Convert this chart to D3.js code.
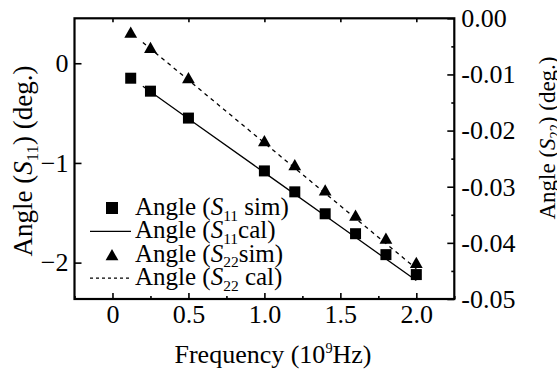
<!DOCTYPE html>
<html>
<head>
<meta charset="utf-8">
<script src="https://cdn.jsdelivr.net/npm/d3@7"></script>
<style>
  body { margin: 0; background: #fff; }
  svg { display: block; }
  text { font-family: "Liberation Serif", "Times New Roman", serif; fill: #000; }
</style>
</head>
<body>
<svg id="chart" width="557" height="374"></svg>
<script>
// simulated points
const freqSim = [0.12, 0.25, 0.5, 1.0, 1.2, 1.4, 1.6, 1.8, 2.0];
const s11Sim = [-0.15, -0.28, -0.55, -1.08, -1.29, -1.51, -1.71, -1.92, -2.12];
const s22Sim = [-0.0025, -0.0052, -0.0106, -0.0218, -0.0261, -0.0306, -0.0351, -0.0392, -0.0435];
// calculated lines
const freqCal = [0.2, 0.5, 1.0, 1.5, 2.0];
const s11Cal = [-0.23, -0.556, -1.097, -1.638, -2.18];
const s22Cal = [-0.0043, -0.0110, -0.0222, -0.0334, -0.0446];
// ticks
const xTicks = [0, 0.5, 1.0, 1.5, 2.0];
const xMinor = [-0.25, 0.25, 0.75, 1.25, 1.75, 2.25];
const leftTicks = [0, -1, -2];
const rightTicks = [0, -0.01, -0.02, -0.03, -0.04, -0.05];
const rightMinor = [-0.005, -0.015, -0.025, -0.035, -0.045];

const svg = d3.select("#chart");
const L = 74.5, R = 454.3, T = 18.3, B = 299;

const x = d3.scaleLinear().domain([-0.25, 2.25]).range([L, R]);
const yL = d3.scaleLinear().domain([0.451, -2.365]).range([T, B]);
const yR = d3.scaleLinear().domain([0, -0.05]).range([T, B]);

// rich text helper: parts = [[text, style]]
function rich(sel, parts, base) {
    let shift = 0;
    parts.forEach(([s, st]) => {
        const t = sel.append("tspan").text(s);
        let target = 0;
        if (st === "i") t.style("font-style", "italic");
        if (st === "sub") { t.attr("font-size", base * 0.62); target = base * 0.22; }
        if (st === "sup") { t.attr("font-size", base * 0.55); target = -base * 0.4; }
        if (target !== shift) t.attr("dy", target - shift);
        shift = target;
    });
}

const fs = 26;

// bottom axis
const gx = svg.append("g").attr("transform", `translate(0,${B})`)
    .call(d3.axisBottom(x).tickValues(xTicks).tickSize(-6).tickPadding(6)
        .tickFormat(d => d === 0 ? "0" : d3.format(".1f")(d)));
gx.selectAll("text").attr("font-size", fs).attr("font-family", null).attr("dy", "0.71em");
svg.append("g").attr("transform", `translate(0,${B})`)
    .call(d3.axisBottom(x).tickValues(xMinor).tickSize(-3).tickFormat(""));

// top axis
svg.append("g").attr("transform", `translate(0,${T})`)
    .call(d3.axisTop(x).tickValues(xTicks).tickSize(-4).tickFormat(""));

// left axis
const gl = svg.append("g").attr("transform", `translate(${L},0)`)
    .call(d3.axisLeft(yL).tickValues(leftTicks).tickSize(-7).tickPadding(6).tickFormat(d3.format("d")));
gl.selectAll("text").attr("font-size", fs).attr("font-family", null);

// right axis
const gr = svg.append("g").attr("transform", `translate(${R},0)`)
    .call(d3.axisRight(yR).tickValues(rightTicks).tickSize(-7).tickPadding(7)
        .tickFormat(d => d3.format(".2f")(d).replace("−", "-")));
gr.selectAll("text").attr("font-size", fs).attr("font-family", null);
svg.append("g").attr("transform", `translate(${R},0)`)
    .call(d3.axisRight(yR).tickValues(rightMinor).tickSize(-3).tickFormat(""));

svg.selectAll(".domain").remove();
svg.selectAll(".tick line").attr("stroke", "#000").attr("stroke-width", 1.6);

// frame
svg.append("rect").attr("x", L).attr("y", T).attr("width", R - L).attr("height", B - T)
    .attr("fill", "none").attr("stroke", "#000").attr("stroke-width", 2.2);

// lines
const lineL = d3.line().x(d => x(d[0])).y(d => yL(d[1]));
const lineR = d3.line().x(d => x(d[0])).y(d => yR(d[1]));
svg.append("path").datum(d3.zip(freqCal, s11Cal)).attr("d", lineL)
    .attr("fill", "none").attr("stroke", "#000").attr("stroke-width", 1.3);
svg.append("path").datum(d3.zip(freqCal, s22Cal)).attr("d", lineR)
    .attr("fill", "none").attr("stroke", "#000").attr("stroke-width", 1.3)
    .attr("stroke-dasharray", "4,4");

// markers
const sq = 11;
const tri = "M0,-5.8L6.4,5.5L-6.4,5.5Z";
svg.append("g").selectAll("rect").data(d3.zip(freqSim, s11Sim)).enter().append("rect")
    .attr("x", d => x(d[0]) - sq / 2).attr("y", d => yL(d[1]) - sq / 2)
    .attr("width", sq).attr("height", sq).attr("fill", "#000");
svg.append("g").selectAll("path").data(d3.zip(freqSim, s22Sim)).enter().append("path")
    .attr("d", tri).attr("transform", d => `translate(${x(d[0])},${yR(d[1])})`).attr("fill", "#000");

// legend
const legend = [
    { kind: "sq", parts: [["Angle (", ""], ["S", "i"], ["11", "sub"], [" sim)", ""]] },
    { kind: "solid", parts: [["Angle (", ""], ["S", "i"], ["11", "sub"], ["cal)", ""]] },
    { kind: "tri", parts: [["Angle (", ""], ["S", "i"], ["22", "sub"], ["sim)", ""]] },
    { kind: "dash", parts: [["Angle (", ""], ["S", "i"], ["22", "sub"], [" cal)", ""]] }
];
const lfs = 25;
const lg = svg.append("g");
legend.forEach((e, i) => {
    const yb = 215 + i * 23.4;
    const ym = yb - 7;
    if (e.kind === "sq") lg.append("rect").attr("x", 112 - 6).attr("y", ym - 6).attr("width", 12).attr("height", 12);
    if (e.kind === "tri") lg.append("path").attr("d", tri).attr("transform", `translate(112,${ym})`);
    if (e.kind === "solid" || e.kind === "dash")
        lg.append("line").attr("x1", 90).attr("x2", 131).attr("y1", ym).attr("y2", ym)
            .attr("stroke", "#000").attr("stroke-width", 1.2)
            .attr("stroke-dasharray", e.kind === "dash" ? "3,3" : null);
    const t = lg.append("text").attr("x", 135).attr("y", yb).attr("font-size", lfs);
    rich(t, e.parts, lfs);
});

// axis titles
const xt = svg.append("text").attr("x", 273).attr("y", 363).attr("text-anchor", "middle").attr("font-size", 26);
rich(xt, [["Frequency (10", ""], ["9", "sup"], ["Hz)", ""]], 26);

const ylt = svg.append("text").attr("transform", "translate(32,161) rotate(-90)")
    .attr("text-anchor", "middle").attr("font-size", 27);
rich(ylt, [["Angle (", ""], ["S", "i"], ["11", "sub"], [") (deg.)", ""]], 27);

const yrt = svg.append("text").attr("transform", "translate(555,138) rotate(-90)")
    .attr("text-anchor", "middle").attr("font-size", 23);
rich(yrt, [["Angle (", ""], ["S", "i"], ["22", "sub"], [") (deg.)", ""]], 23);
</script>
</body>
</html>
